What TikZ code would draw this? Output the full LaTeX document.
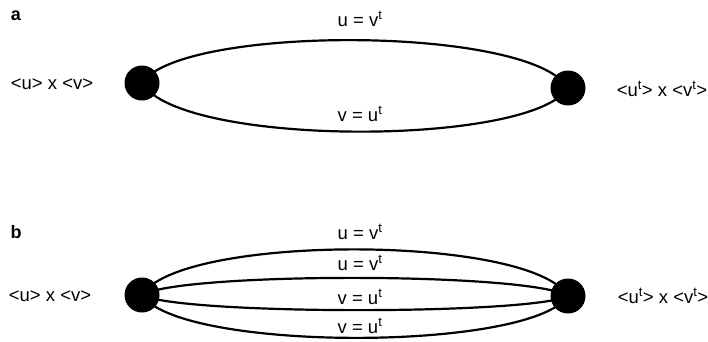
\documentclass[tikz,border=0pt]{standalone}
\usepackage{fontspec}
\setmainfont{Liberation Sans}
\begin{document}
\begin{tikzpicture}[x=1pt,y=-1pt,
  dot/.style={circle,fill=black,inner sep=0pt,minimum size=35pt},
  lbl/.style={font=\fontsize{18.5}{20}\selectfont,inner sep=1pt},
  panel/.style={font=\fontsize{18}{20}\selectfont\bfseries,inner sep=0pt},
  arc/.style={line width=2.2pt}]
\useasboundingbox (0,0) rectangle (708,341);
% panel a
\node[panel] (pa) at (16,16) {a};
\node[dot] (aL) at (142,83) {};
\node[dot] (aR) at (568,88) {};
\node[lbl] (aLl) at (52,84) {<u> x <v>};
\node[lbl] (aRl) at (662,89) {<u\textsuperscript{t}> x <v\textsuperscript{t}>};
\node[lbl] (at1) at (360,19) {u = v\textsuperscript{t}};
\node[lbl] (at2) at (360,114) {v = u\textsuperscript{t}};
\draw[arc] (aL.center) .. controls (180,25) and (530,25) .. (aR.center);
\draw[arc] (aL.center) .. controls (180,147) and (530,147) .. (aR.center);
% panel b
\node[panel] (pb) at (16,232) {b};
\node[dot] (bL) at (142,295) {};
\node[dot] (bR) at (568,296) {};
\node[lbl] (bLl) at (50,296) {<u> x <v>};
\node[lbl] (bRl) at (663,296) {<u\textsuperscript{t}> x <v\textsuperscript{t}>};
\node[lbl] (bt1) at (360,232) {u = v\textsuperscript{t}};
\node[lbl] (bt2) at (360,263) {u = v\textsuperscript{t}};
\node[lbl] (bt3) at (360,297) {v = u\textsuperscript{t}};
\node[lbl] (bt4) at (360,326) {v = u\textsuperscript{t}};
\draw[arc] (bL.center) .. controls (180,234) and (530,234) .. (bR.center);
\draw[arc] (bL.center) .. controls (180,272) and (530,272) .. (bR.center);
\draw[arc] (bL.center) .. controls (180,315) and (530,315) .. (bR.center);
\draw[arc] (bL.center) .. controls (180,352) and (530,352) .. (bR.center);
\end{tikzpicture}
\end{document}
